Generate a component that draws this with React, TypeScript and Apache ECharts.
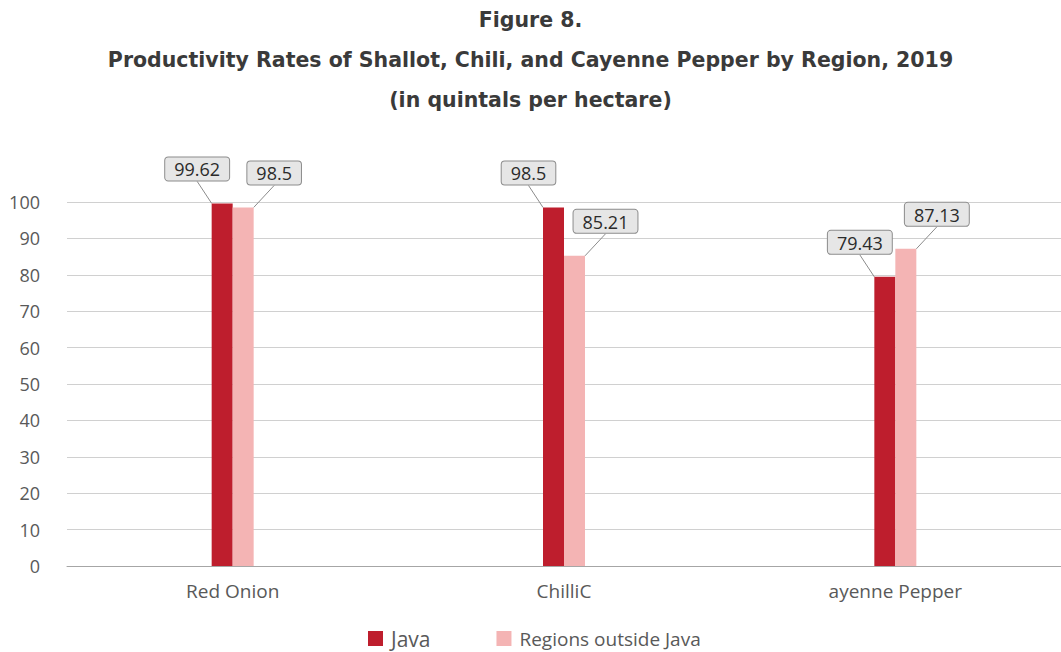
import React, { useEffect, useRef } from "react";
import * as echarts from "echarts";

const categories = ["Red Onion", "ChilliC", "ayenne Pepper"];
const javaValues = [99.62, 98.5, 79.43];
const outsideValues = [98.5, 85.21, 87.13];
const yTicks = [0, 10, 20, 30, 40, 50, 60, 70, 80, 90, 100];
const seriesNames = ["Java", "Regions outside Java"];
const titleLines = [
  "Figure 8.",
  "Productivity Rates of Shallot, Chili, and Cayenne Pepper by Region, 2019",
  "(in quintals per hectare)",
];

const FONT = "'Open Sans', Roboto, sans-serif";
const TITLE_FONT = "'DejaVu Sans', 'Open Sans', sans-serif";

export default function App() {
  const ref = useRef<HTMLDivElement>(null);
  useEffect(() => {
    if (!ref.current) return;
    const chart = echarts.init(ref.current, undefined, { renderer: "svg" });
    const labelBox = {
      show: true,
      position: "top" as const,
      distance: 5,
      fontFamily: FONT,
      fontSize: 18,
      color: "#2b2b2b",
      backgroundColor: "#e6e6e6",
      borderColor: "#8c8c8c",
      borderWidth: 1,
      borderRadius: 3,
      padding: [3, 9, 2, 9],
    };
    chart.setOption({
      animation: false,
      textStyle: { fontFamily: FONT },
      title: {
        text: titleLines.join("\n"),
        left: "center",
        top: -5,
        textStyle: {
          fontFamily: TITLE_FONT,
          fontSize: 20.5,
          fontWeight: "bold",
          color: "#3a3a3a",
          lineHeight: 40,
        },
      },
      legend: {
        left: 363,
        top: 623,
        itemWidth: 15,
        itemHeight: 15,
        itemGap: 66,
        icon: "rect",
        data: [
          { name: seriesNames[0], textStyle: { fontSize: 21, color: "#595959" } },
          { name: seriesNames[1], textStyle: { fontSize: 19, color: "#595959" } },
        ],
        textStyle: { fontFamily: FONT, color: "#595959", padding: [0, 0, 0, 3] },
      },
      grid: { left: 67, right: -3, top: 202, bottom: 86, containLabel: false },
      xAxis: {
        type: "category",
        data: categories,
        axisLine: { show: true, lineStyle: { color: "#a6a6a6", width: 1 } },
        axisTick: { show: false },
        axisLabel: { fontSize: 19, color: "#595959", margin: 15, fontFamily: FONT },
      },
      yAxis: {
        type: "value",
        min: yTicks[0],
        max: yTicks[yTicks.length - 1],
        interval: 10,
        axisLine: { show: false },
        axisTick: { show: false },
        axisLabel: { fontSize: 18, color: "#595959", margin: 27, fontFamily: FONT },
        splitLine: { lineStyle: { color: "#d0d0d0", width: 1 } },
      },
      series: [
        {
          name: seriesNames[0],
          type: "bar",
          data: javaValues,
          barWidth: 21,
          barGap: "0%",
          itemStyle: { color: "#be1e2d" },
          label: labelBox,
          labelLayout: { dx: -25, dy: -18 },
          labelLine: { show: true, lineStyle: { color: "#8c8c8c", width: 1 } },
        },
        {
          name: seriesNames[1],
          type: "bar",
          data: outsideValues,
          barWidth: 21,
          barGap: "0%",
          itemStyle: { color: "#f4b4b4" },
          label: labelBox,
          labelLayout: { dx: 31, dy: -18 },
          labelLine: { show: true, lineStyle: { color: "#8c8c8c", width: 1 } },
        },
      ],
    });
    return () => chart.dispose();
  }, []);
  return (
    <div
      ref={ref}
      style={{ position: "fixed", left: 0, top: 0, width: 1061, height: 652, background: "#fff" }}
    />
  );
}
